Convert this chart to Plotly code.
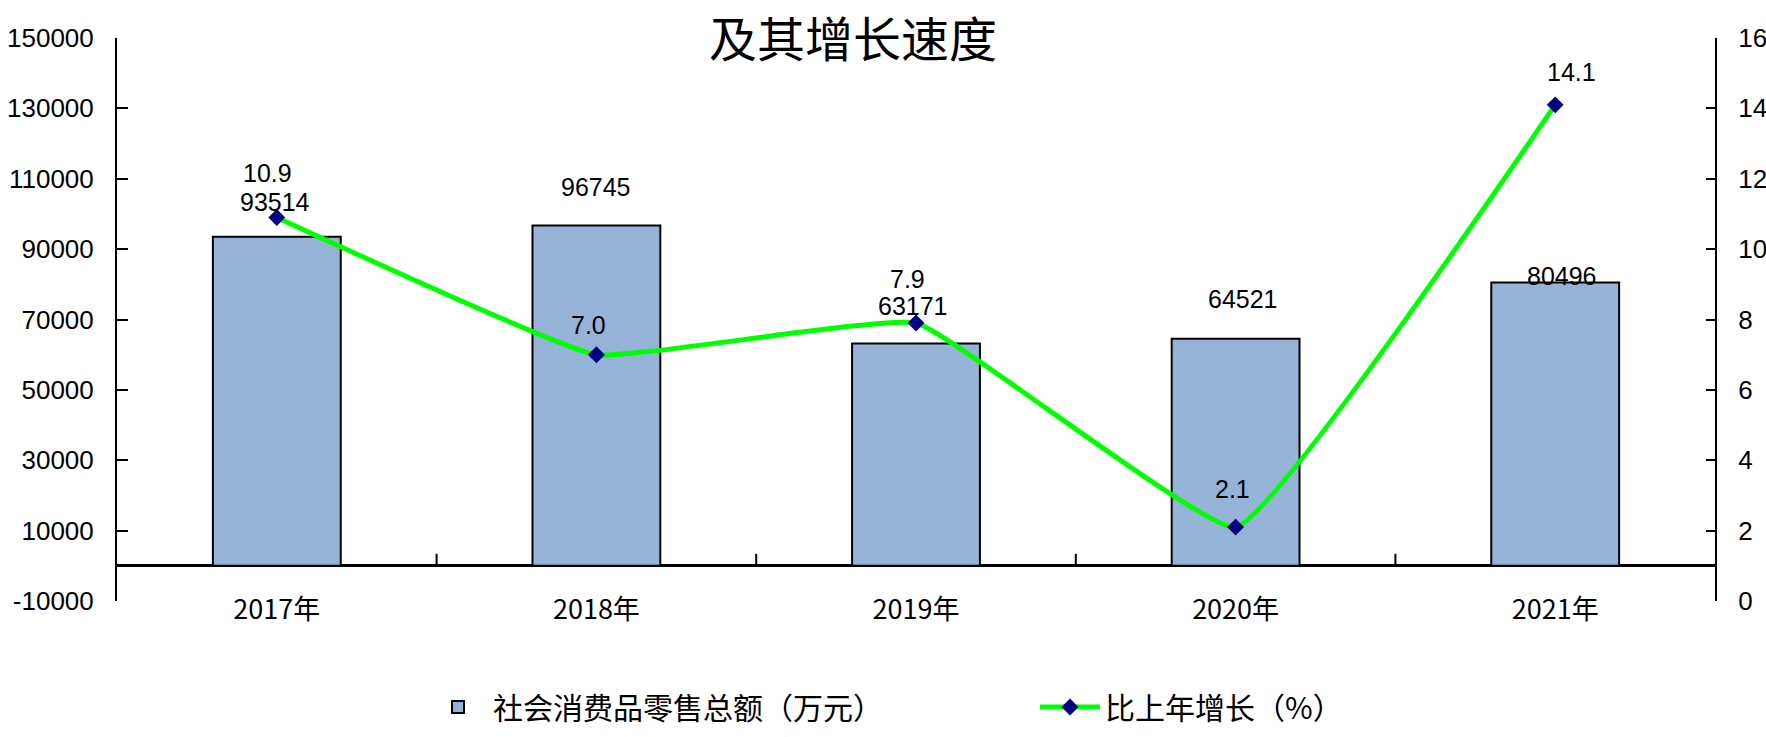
import plotly.graph_objects as go

years = ["2017年", "2018年", "2019年", "2020年", "2021年"]
retail = [93514, 96745, 63171, 64521, 80496]
growth = [10.9, 7.0, 7.9, 2.1, 14.1]
growth_text = ["10.9", "7.0", "7.9", "2.1", "14.1"]
left_ticks = [-10000, 10000, 30000, 50000, 70000, 90000, 110000, 130000, 150000]
right_ticks = [0, 2, 4, 6, 8, 10, 12, 14, 16]

# label offsets (px) as placed in the original
retail_dy = [35, 38, 38, 40, 7]
retail_dx = [-2, 0, -3, 7, 7]
growth_dy = [44, 30, 44, 38, 33]
growth_dx = [-9, -8, -9, -3, 16]

W, H = 1766, 737
L, R, T, B = 117, 51, 38, 136
plot_w = W - L - R
plot_h = H - T - B
NUM = "Liberation Sans, Arial, sans-serif"
CJK = "Noto Sans CJK SC, sans-serif"

fig = go.Figure()
fig.add_trace(go.Bar(
    x=years, y=retail, name="社会消费品零售总额（万元）",
    marker=dict(color="#95B3D7", line=dict(color="black", width=2)),
    yaxis="y", width=0.4,
))
fig.add_trace(go.Scatter(
    x=years, y=growth, name="比上年增长（%）", yaxis="y2",
    mode="lines+markers",
    line=dict(color="#00FF00", width=5, shape="spline", smoothing=0.3),
    marker=dict(symbol="diamond", color="#000080", size=13),
))

ann = []
for i, y in enumerate(years):
    ann.append(dict(x=y, y=retail[i], xref="x", yref="y", text=str(retail[i]),
                    showarrow=False, yshift=retail_dy[i], xshift=retail_dx[i],
                    font=dict(family=NUM, size=25, color="black")))
    ann.append(dict(x=y, y=growth[i], xref="x", yref="y2", text=growth_text[i],
                    showarrow=False, yshift=growth_dy[i], xshift=growth_dx[i],
                    font=dict(family=NUM, size=25, color="black")))
ann.append(dict(x=(853 - L) / plot_w, y=1 + (T - 36) / plot_h, xref="paper", yref="paper",
                xanchor="center", yanchor="middle",
                text="及其增长速度", showarrow=False,
                font=dict(family=CJK, size=48, color="black")))

shapes = []
for i in range(1, len(years)):
    shapes.append(dict(type="line", xref="x", yref="y", x0=i - 0.5, x1=i - 0.5,
                       ysizemode="pixel", yanchor=0, y0=0, y1=12,
                       line=dict(color="black", width=2)))

fig.update_layout(
    width=W, height=H,
    margin=dict(l=L, r=R, t=T, b=B, autoexpand=False),
    paper_bgcolor="white", plot_bgcolor="white",
    bargap=0.6,
    showlegend=True,
    legend=dict(orientation="h", x=(423 - L) / plot_w, xanchor="left",
                y=-(707 - (H - B)) / plot_h, yanchor="middle",
                font=dict(family=CJK, size=30, color="black"),
                entrywidth=537, itemwidth=60, bgcolor="rgba(0,0,0,0)"),
    xaxis=dict(type="category", range=[-0.5, 4.5], showline=False, ticks="",
               showgrid=False, zeroline=False, automargin=False,
               tickfont=dict(family=CJK, size=27, color="black"),
               ticklabelstandoff=-10),
    yaxis=dict(range=[-10000, 150000], tickvals=left_ticks,
               ticktext=[str(v) for v in left_ticks],
               showgrid=False, showline=True, linecolor="black", linewidth=2,
               ticks="inside", ticklen=11, tickwidth=2, tickcolor="black",
               zeroline=True, zerolinecolor="black", zerolinewidth=3,
               automargin=False,
               tickfont=dict(family=NUM, size=26, color="black"),
               ticklabelstandoff=16),
    yaxis2=dict(range=[0, 16], tickvals=right_ticks,
                ticktext=[str(v) for v in right_ticks],
                overlaying="y", side="right",
                showgrid=False, showline=True, linecolor="black", linewidth=2,
                ticks="inside", ticklen=9, tickwidth=2, tickcolor="black",
                zeroline=False, automargin=False,
                tickfont=dict(family=NUM, size=26, color="black"),
                ticklabelstandoff=16),
    annotations=ann,
    shapes=shapes,
)

fig.write_html("out.html", config={"displayModeBar": False},
               post_script="document.body.style.margin='0px';")
